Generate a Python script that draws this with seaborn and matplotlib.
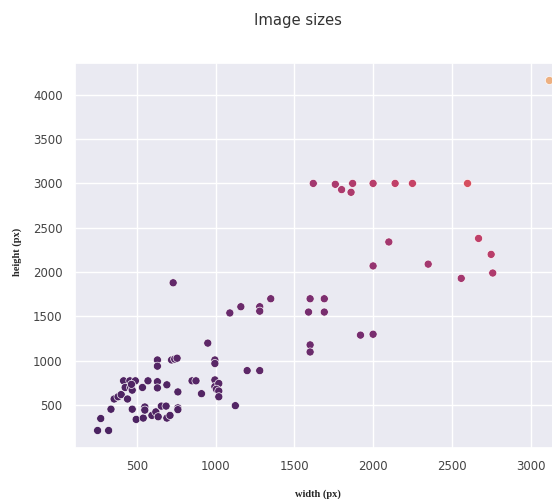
import matplotlib
matplotlib.use("Agg")
import matplotlib.pyplot as plt
import seaborn as sns
import pandas as pd

widths = [250, 320, 270, 335, 355, 380, 400, 440,
          415, 455, 490, 425, 460, 470, 465,
          535, 570, 630, 630, 690, 760,
          630, 630, 720, 740, 755,
          470, 495, 540, 550, 550, 595, 620, 655, 685, 635, 690, 710, 760, 760,
          850, 875, 910, 950, 995, 995, 995, 995, 1020, 1005, 1020, 1020, 1125, 1200, 1280,
          730,
          1090, 1160, 1280, 1280, 1350,
          1600, 1690, 1590, 1690, 1600, 1600, 1920, 2000,
          1620, 1760, 1800, 1870, 1860, 2000, 2140, 2250, 2600,
          2100, 2000, 2350, 2670, 2750, 2560, 2760,
          3120]
heights = [215, 215, 350, 455, 570, 595, 620, 570,
           775, 775, 775, 700, 700, 670, 735,
           700, 775, 765, 695, 730, 650,
           1010, 940, 1010, 1020, 1030,
           455, 340, 355, 480, 445, 385, 425, 490, 490, 370, 355, 385, 470, 450,
           775, 775, 630, 1200, 1010, 970, 785, 710, 745, 680, 660, 595, 495, 890, 890,
           1880,
           1540, 1610, 1610, 1560, 1700,
           1700, 1700, 1550, 1550, 1180, 1100, 1290, 1300,
           3000, 2990, 2930, 3000, 2900, 3000, 3000, 3000, 3000,
           2340, 2070, 2090, 2380, 2200, 1930, 1990,
           4160]

df = pd.DataFrame({"width": widths, "height": heights})
df["area"] = df["width"] * df["height"]

sns.set_theme(style="darkgrid")

fig = plt.figure(figsize=(5.52, 4.99), dpi=100)
ax = fig.add_axes([75/552, 1 - 448/499, 497/552, 385/499])

sns.scatterplot(data=df, x="width", y="height", hue="area", palette="flare_r",
                s=34, legend=False, ax=ax)

ax.set_xticks([500, 1000, 1500, 2000, 2500, 3000])
ax.set_yticks([500, 1000, 1500, 2000, 2500, 3000, 3500, 4000])
ax.tick_params(axis="both", labelsize=8.5, pad=9, length=0, labelcolor="#444444")

lab_font = dict(family="Liberation Serif", weight="bold", size=7.5)
ax.set_xlabel("width (px)", **lab_font)
ax.set_ylabel("height (px)", **lab_font)
ax.xaxis.label.set_va("center")
ax.yaxis.label.set_va("center")
ax.xaxis.set_label_coords((318 - 75) / 497, (448 - 494) / 385)
ax.yaxis.set_label_coords((17 - 75) / 497, (448 - 252) / 385)

fig.text(298/552, 1 - 20/499, "Image sizes", ha="center", va="center",
         fontsize=10.7, color="#333333")

fig.savefig("out.png", dpi=100)
